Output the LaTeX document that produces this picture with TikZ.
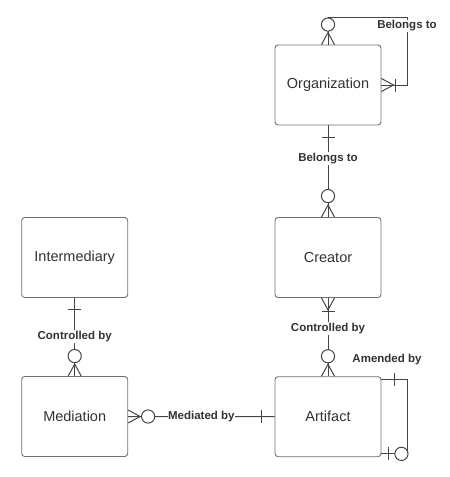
\documentclass[tikz,border=0pt]{standalone}
\usepackage{fontspec}
\setmainfont{Liberation Sans}
\usetikzlibrary{calc}
\definecolor{txt}{HTML}{333333}
\definecolor{ln}{HTML}{454545}
\definecolor{bx}{HTML}{707070}
\begin{document}
\begin{tikzpicture}[x=1pt,y=-1pt,
  entity/.style={draw=bx,line width=0.9pt,rounded corners=3pt,fill=white,
    minimum width=106pt,minimum height=80pt,inner sep=0pt,text=txt,
    font=\fontsize{14.5}{17}\selectfont},
  rel/.style={draw=ln,line width=1pt},
  lbl/.style={fill=white,text=txt,inner sep=1pt,font=\bfseries\fontsize{11.5}{13}\selectfont},
  pics/many/.style={code={\draw[rel] (0,-6.5) -- (12,0) -- (0,6.5);}},
  pics/onebar/.style={code={\draw[rel] (#1,-6.5) -- (#1,6.5);}},
  pics/zerocirc/.style={code={\draw[rel,fill=white] (#1,0) circle (6.6);}}
]
\useasboundingbox (0,0) rectangle (450,477);

\node[entity] (org) at (328,85) {Organization};
\node[entity] (cre) at (328,257.5) {Creator};
\node[entity] (int) at (74.7,257.5) {Intermediary};
\node[entity] (med) at (74.7,416.5) {Mediation};
\node[entity] (art) at (328,416.7) {Artifact};

% Organization self loop
\coordinate (orgloop) at ($(org.east)+(26,0)$);
\draw[rel] (org.north) -- ++(0,-27) -| (orgloop) -- (org.east);
\node[lbl] (lorg) at (407,26) {Belongs to};
\pic[rotate=90] at (org.north) {many};
\pic[rotate=90] at (org.north) {zerocirc=20};
\pic[rotate=0] at (org.east) {many};
\pic[rotate=0] at (org.east) {onebar=14};

% Organization - Creator
\draw[rel] (org.south) -- node[lbl,pos=0.36] (l1) {Belongs to} (cre.north);
\pic[rotate=270] at (org.south) {onebar=12};
\pic[rotate=90] at (cre.north) {many};
\pic[rotate=90] at (cre.north) {zerocirc=21};

% Creator - Artifact
\draw[rel] (cre.south) -- node[lbl,pos=0.39] (l2) {Controlled by} (art.north);
\pic[rotate=270] at (cre.south) {many};
\pic[rotate=270] at (cre.south) {onebar=14};
\pic[rotate=90] at (art.north) {many};
\pic[rotate=90] at (art.north) {zerocirc=20};

% Intermediary - Mediation
\draw[rel] (int.south) -- node[lbl,pos=0.49] (l3) {Controlled by} (med.north);
\pic[rotate=270] at (int.south) {onebar=12};
\pic[rotate=90] at (med.north) {many};
\pic[rotate=90] at (med.north) {zerocirc=20};

% Mediation - Artifact
\draw[rel] (med.east) -- node[lbl,pos=0.5,inner sep=0.3pt] (l4) {Mediated by} (art.west);
\pic[rotate=0] at (med.east) {many};
\pic[rotate=0] at (med.east) {zerocirc=20};
\pic[rotate=180] at (art.west) {onebar=13};

% Artifact self loop
\coordinate (a1) at ($(art.north east)+(0,3.3)$);
\coordinate (a2) at ($(art.south east)+(0,-3.3)$);
\coordinate (aloop) at ($(a1)+(26.5,0)$);
\draw[rel] (a1) -- (aloop) |- (a2);
\pic[rotate=0] at (a1) {onebar=13};
\pic[rotate=0] at (a2) {onebar=7};
\pic[rotate=0] at (a2) {zerocirc=20};
\node[lbl] (lart) at (387,360) {Amended by};
\end{tikzpicture}
\end{document}
